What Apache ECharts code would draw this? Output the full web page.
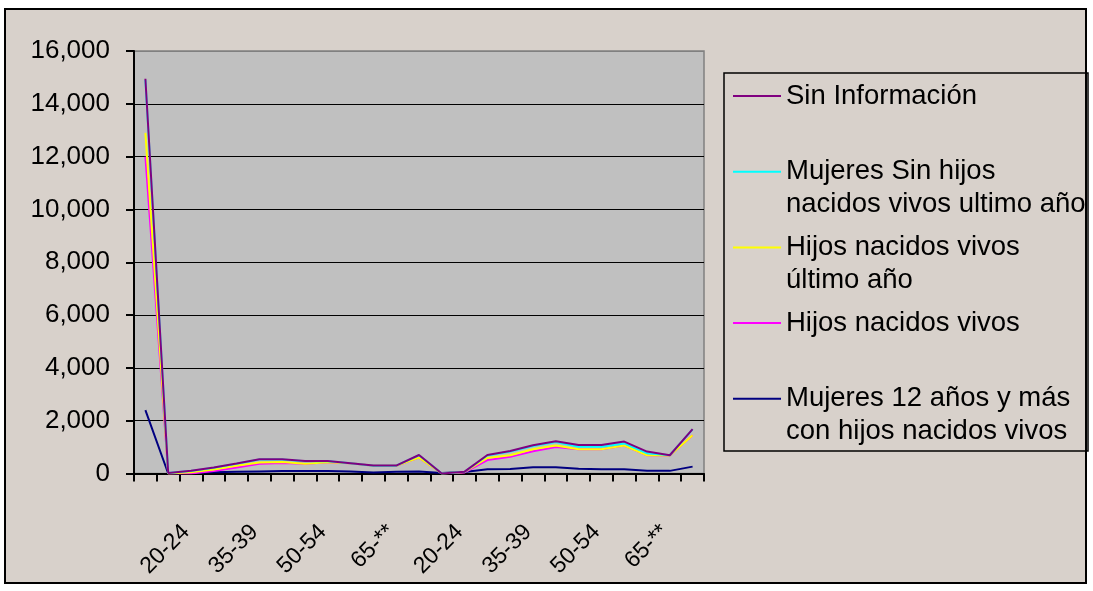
<!DOCTYPE html>
<html>
<head>
<meta charset="utf-8">
<script src="https://cdn.jsdelivr.net/npm/echarts@6/dist/echarts.min.js"></script>
<style>
  html, body { margin: 0; padding: 0; background: #ffffff; }
  #chart { width: 1093px; height: 591px; }
</style>
</head>
<body>
<div id="chart"></div>
<script>
// ---- Data ----
const categories = [
  "Total", "15-19", "20-24", "25-29", "30-34", "35-39", "40-44", "45-49", "50-54", "55-59", "60-64", "65-**", "Ignorado",
  "15-19", "20-24", "25-29", "30-34", "35-39", "40-44", "45-49", "50-54", "55-59", "60-64", "65-**", "Ignorado"
];
const sinInformacion = [14950, 20, 100, 230, 380, 540, 540, 470, 470, 390, 300, 300, 700, 0, 70, 700, 850, 1070, 1220, 1080, 1080, 1210, 830, 690, 1680];
const mujeresSinHijos = [14900, 15, 95, 220, 370, 530, 530, 460, 465, 385, 295, 295, 690, 0, 65, 680, 830, 1040, 1190, 1010, 1010, 1140, 765, 690, 1670];
const hijosUltimoAnio = [12900, 0, 50, 150, 290, 420, 440, 370, 430, 385, 295, 295, 600, 0, 60, 590, 690, 920, 1060, 920, 920, 1060, 690, 680, 1450];
const hijosNacidosVivos = [12000, 0, 0, 90, 230, 370, 400, 365, 425, 385, 295, 295, 600, 0, 40, 510, 630, 840, 1000, 920, 920, 1060, 690, 680, 1450];
const mujeres12 = [2400, 0, 30, 50, 70, 80, 90, 90, 90, 80, 40, 70, 80, 20, 60, 160, 170, 240, 240, 180, 160, 160, 100, 100, 260];
const yTicks = [0, 2000, 4000, 6000, 8000, 10000, 12000, 14000, 16000];

const seriesNames = [
  "Sin Información",
  "Mujeres Sin hijos nacidos vivos ultimo año",
  "Hijos nacidos vivos último año",
  "Hijos nacidos vivos",
  "Mujeres 12 años y más con hijos nacidos vivos"
];
const legendLines = {
  "Sin Información": ["Sin Información", " "],
  "Mujeres Sin hijos nacidos vivos ultimo año": ["Mujeres Sin hijos", "nacidos vivos ultimo año"],
  "Hijos nacidos vivos último año": ["Hijos nacidos vivos", "último año"],
  "Hijos nacidos vivos": ["Hijos nacidos vivos", " "],
  "Mujeres 12 años y más con hijos nacidos vivos": ["Mujeres 12 años y más", "con hijos nacidos vivos"]
};
const colors = {
  "Sin Información": "#800080",
  "Mujeres Sin hijos nacidos vivos ultimo año": "#00FFFF",
  "Hijos nacidos vivos último año": "#FFFF00",
  "Hijos nacidos vivos": "#FF00FF",
  "Mujeres 12 años y más con hijos nacidos vivos": "#000080"
};
const values = {
  "Sin Información": sinInformacion,
  "Mujeres Sin hijos nacidos vivos ultimo año": mujeresSinHijos,
  "Hijos nacidos vivos último año": hijosUltimoAnio,
  "Hijos nacidos vivos": hijosNacidosVivos,
  "Mujeres 12 años y más con hijos nacidos vivos": mujeres12
};

const FONT = "'Liberation Sans', Arial, sans-serif";
const LH = 33;
const drawOrder = [seriesNames[4], seriesNames[3], seriesNames[2], seriesNames[1], seriesNames[0]];

const chart = echarts.init(document.getElementById('chart'), null, { renderer: 'canvas' });
chart.setOption({
  animation: false,
  backgroundColor: '#ffffff',
  graphic: [
    { type: 'rect', z: -10, shape: { x: 5, y: 9, width: 1081, height: 574 },
      style: { fill: '#D8D1CB', stroke: '#000000', lineWidth: 2 } },
    { type: 'rect', z: 5, shape: { x: 724, y: 73, width: 364, height: 378 },
      style: { fill: 'none', stroke: '#000000', lineWidth: 1.5 } }
  ],
  grid: {
    left: 134, top: 51, right: 389, bottom: 117.5,
    show: true, backgroundColor: '#C0C0C0', borderColor: '#808080', borderWidth: 1.5
  },
  legend: {
    orient: 'vertical',
    left: 733, top: 96 - 1.5 * LH,
    padding: 0,
    itemGap: 75.7 - 3 * LH,
    itemWidth: 48, itemHeight: 2,
    icon: 'rect',
    formatter: n => ' \n' + legendLines[n].join('\n'),
    textStyle: { fontFamily: FONT, fontSize: 27.5, color: '#000', lineHeight: LH },
    data: seriesNames
  },
  xAxis: {
    type: 'category',
    data: categories,
    boundaryGap: true,
    axisLine: { lineStyle: { color: '#000', width: 2 } },
    axisTick: { show: true, interval: 0, length: 8, lineStyle: { color: '#000', width: 2 } },
    axisLabel: {
      interval: (i) => i % 3 === 2,
      rotate: 45,
      margin: 50,
      padding: [0, 7, 0, 0],
      fontFamily: FONT, fontSize: 23, color: '#000'
    },
    splitLine: { show: false }
  },
  yAxis: {
    type: 'value',
    min: yTicks[0], max: yTicks[yTicks.length - 1], interval: 2000,
    axisLine: { show: true, lineStyle: { color: '#000', width: 2 } },
    axisTick: { show: true, length: 8, lineStyle: { color: '#000', width: 2 } },
    axisLabel: {
      margin: 24,
      fontFamily: FONT, fontSize: 26, color: '#000',
      formatter: v => v.toLocaleString('en-US')
    },
    splitLine: {
      show: true,
      lineStyle: { color: ['#000', '#000', '#000', '#000', '#000', '#000', '#000', '#000', '#808080'], width: 1.2 }
    }
  },
  series: drawOrder.map(n => ({
    name: n,
    type: 'line',
    data: values[n],
    symbol: 'none',
    color: colors[n],
    itemStyle: { color: colors[n] },
    lineStyle: { color: colors[n], width: 2 },
    emphasis: { disabled: true }
  }))
});
</script>
</body>
</html>
